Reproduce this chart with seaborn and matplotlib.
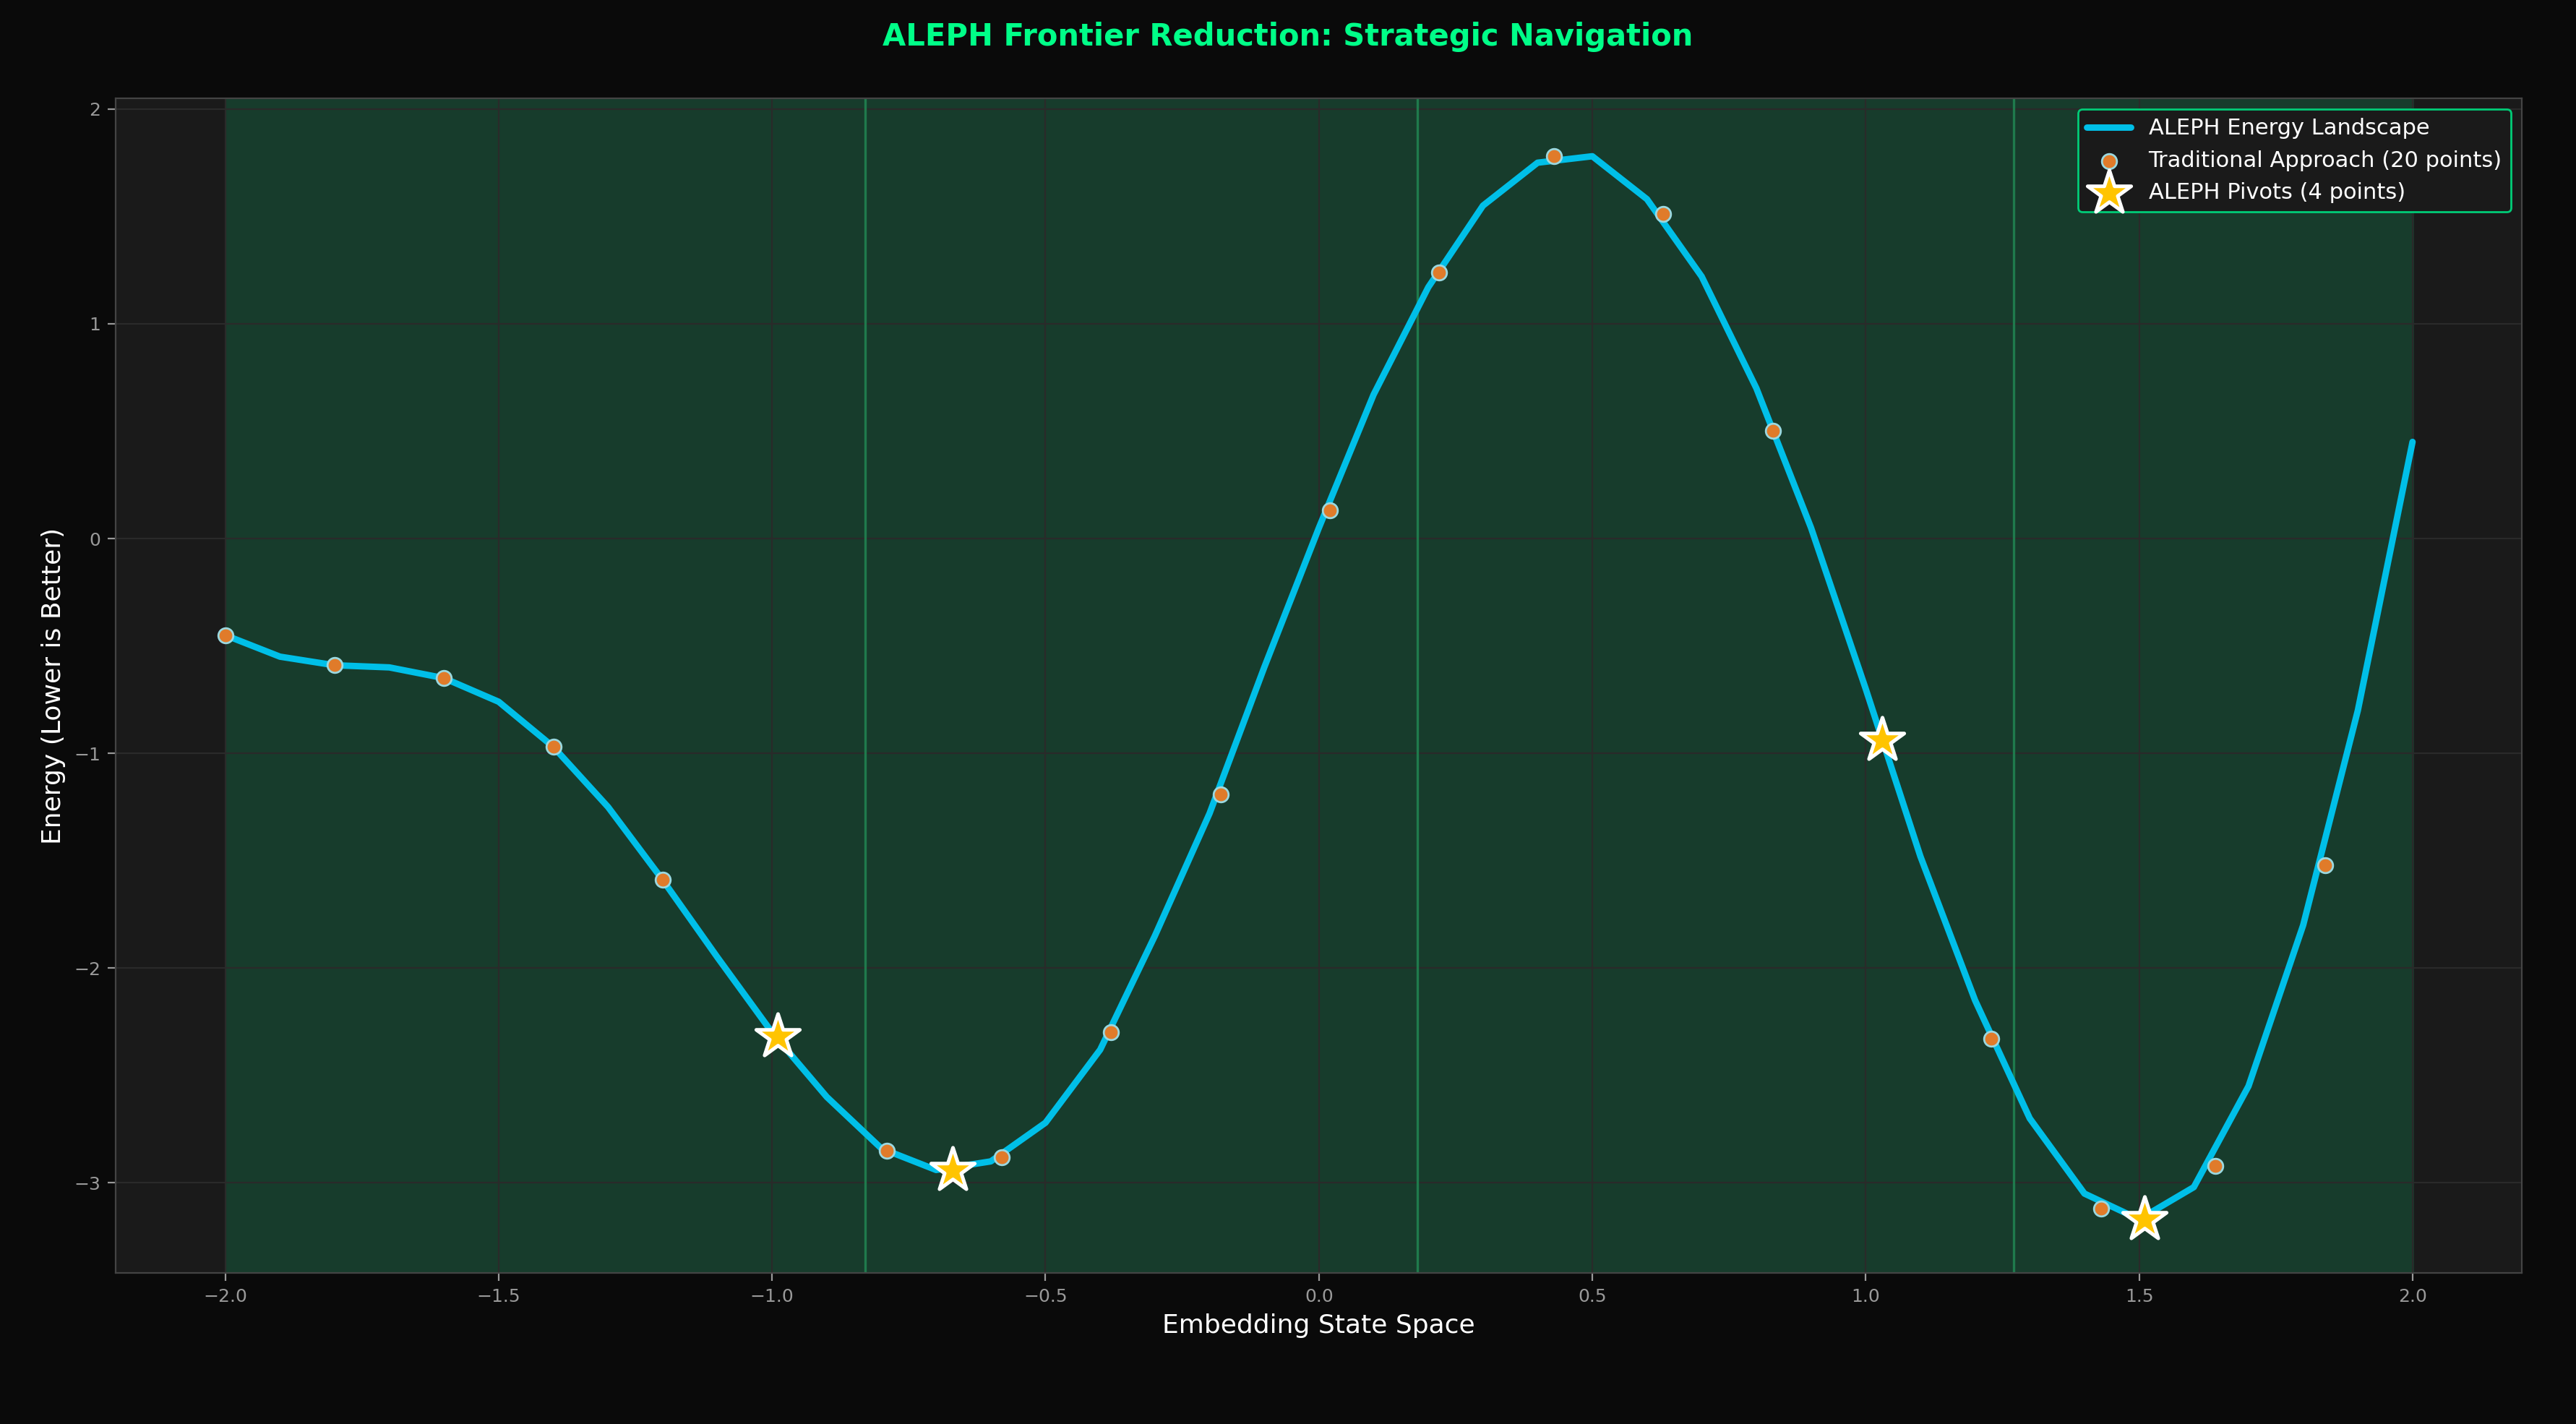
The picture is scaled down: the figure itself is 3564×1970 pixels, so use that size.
import matplotlib
matplotlib.use("Agg")
import matplotlib.pyplot as plt
import numpy as np
import pandas as pd
import seaborn as sns

sns.set_style("dark")
plt.rcParams['font.family'] = ['DejaVu Sans']

# energy landscape (0.1 steps)
curve_x = [-2.0, -1.9, -1.8, -1.7, -1.6, -1.5, -1.4, -1.3, -1.2, -1.1, -1.0,
           -0.9, -0.8, -0.7, -0.6, -0.5, -0.4, -0.3, -0.2, -0.1, 0.0,
           0.1, 0.2, 0.3, 0.4, 0.5, 0.6, 0.7, 0.8, 0.9, 1.0,
           1.1, 1.2, 1.3, 1.4, 1.5, 1.6, 1.7, 1.8, 1.9, 2.0]
curve_y = [-0.45, -0.55, -0.59, -0.60, -0.65, -0.76, -0.97, -1.25, -1.59, -1.95, -2.30,
           -2.60, -2.84, -2.94, -2.90, -2.72, -2.38, -1.85, -1.28, -0.60, 0.05,
           0.67, 1.17, 1.55, 1.75, 1.78, 1.58, 1.22, 0.70, 0.05, -0.70,
           -1.48, -2.15, -2.70, -3.05, -3.17, -3.02, -2.55, -1.80, -0.80, 0.45]

trad_x = [-2.0, -1.8, -1.6, -1.4, -1.2, -0.99, -0.79, -0.58, -0.38, -0.18,
          0.02, 0.22, 0.43, 0.63, 0.83, 1.03, 1.23, 1.43, 1.64, 1.84]
trad_y = [-0.45, -0.59, -0.65, -0.97, -1.59, -2.32, -2.85, -2.88, -2.30, -1.19,
          0.13, 1.24, 1.78, 1.51, 0.50, -0.94, -2.33, -3.12, -2.92, -1.52]

pivot_x = [-0.99, -0.67, 1.03, 1.51]
pivot_y = [-2.32, -2.94, -0.94, -3.17]

section_bounds = [-0.83, 0.18, 1.27]

curve = pd.DataFrame({"x": curve_x, "y": curve_y})
trad = pd.DataFrame({"x": trad_x, "y": trad_y})
pivots = pd.DataFrame({"x": pivot_x, "y": pivot_y})

fig = plt.figure(figsize=(17.82, 9.85), dpi=200, facecolor="#0a0a0a")
ax = fig.add_axes([0.045, 0.106, 0.934, 0.825])
ax.set_facecolor("#1a1a1a")

ax.axvspan(-2.0, 2.0, color="#173c2c", zorder=0)
for b in section_bounds:
    ax.axvline(b, color="#1f7a4c", lw=1.2, zorder=1)

sns.lineplot(data=curve, x="x", y="y", ax=ax, color="#00bfe8", lw=3.2,
             label="ALEPH Energy Landscape", zorder=3)
sns.scatterplot(data=trad, x="x", y="y", ax=ax, color="#e07b2a", s=55,
                edgecolor="#9ad8e0", linewidth=1.0,
                label="Traditional Approach (20 points)", zorder=4)
sns.scatterplot(data=pivots, x="x", y="y", ax=ax, color="#ffc400", marker="*",
                s=520, edgecolor="white", linewidth=1.8,
                label="ALEPH Pivots (4 points)", zorder=5)

ax.set_xlim(-2.2, 2.2)
ax.set_ylim(-3.42, 2.05)
ax.set_xticks([-2.0, -1.5, -1.0, -0.5, 0.0, 0.5, 1.0, 1.5, 2.0])
ax.grid(True, color="#2a2a2a", lw=0.8)
ax.tick_params(colors="#999999", labelsize=9, length=4, left=True, bottom=True)
for s in ax.spines.values():
    s.set_color("#444444")

ax.set_xlabel("Embedding State Space", color="white", fontsize=13)
ax.set_ylabel("Energy (Lower is Better)", color="white", fontsize=13)
fig.suptitle("ALEPH Frontier Reduction: Strategic Navigation", color="#00ff88",
             fontsize=15, fontweight="bold", y=0.985)

leg = ax.legend(loc="upper right", fontsize=11, facecolor="#1a1a1a",
                edgecolor="#00cc77", labelcolor="white", framealpha=1)

fig.savefig("out.png", dpi=200, facecolor=fig.get_facecolor())
